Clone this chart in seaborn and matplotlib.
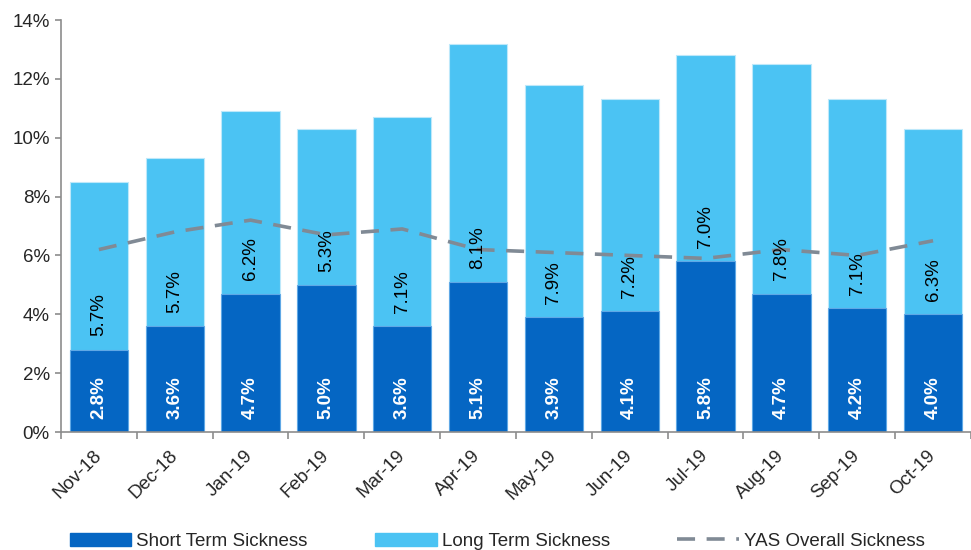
import numpy as np
import pandas as pd
import seaborn as sns
import matplotlib.pyplot as plt
from matplotlib.ticker import FuncFormatter, FixedLocator
from matplotlib.patches import Patch
from matplotlib.lines import Line2D

months = ["Nov-18", "Dec-18", "Jan-19", "Feb-19", "Mar-19", "Apr-19",
          "May-19", "Jun-19", "Jul-19", "Aug-19", "Sep-19", "Oct-19"]
short_term = [2.8, 3.6, 4.7, 5.0, 3.6, 5.1, 3.9, 4.1, 5.8, 4.7, 4.2, 4.0]
long_term = [5.7, 5.7, 6.2, 5.3, 7.1, 8.1, 7.9, 7.2, 7.0, 7.8, 7.1, 6.3]
overall = [6.2, 6.8, 7.2, 6.7, 6.9, 6.2, 6.1, 6.0, 5.9, 6.2, 6.0, 6.5]

DARK = "#0566C3"
LIGHT = "#4BC3F3"
GREY = "#808A95"
FS = 13.5

sns.set_theme(style="white")
plt.rcParams["font.family"] = ["Liberation Sans", "DejaVu Sans"]
plt.rcParams["font.size"] = FS

df = pd.DataFrame({"month": months, "short": short_term, "long": long_term})
df["total"] = df["short"] + df["long"]

fig = plt.figure(figsize=(9.71, 5.5), dpi=100)
ax = fig.add_axes([0.0628, 0.2145, 0.9372, 0.7491])

# stacked bars: total (light) underneath, short term (dark) on top
sns.barplot(data=df, x="month", y="total", color=LIGHT, saturation=1,
            width=0.77, edgecolor="#BDE8FA", linewidth=0.8, ax=ax)
sns.barplot(data=df, x="month", y="short", color=DARK, saturation=1,
            width=0.77, edgecolor="#5FA8E6", linewidth=0.8, ax=ax)

ax.plot(np.arange(len(months)), overall, color=GREY, lw=2.6,
        dashes=(5, 3.2), zorder=5)

for i, (s, l) in enumerate(zip(short_term, long_term)):
    ax.text(i, 0.45, f"{s:.1f}%", rotation=90, ha="center", va="bottom",
            color="white", fontweight="bold", fontsize=FS, zorder=6)
    ax.text(i, s + 0.45, f"{l:.1f}%", rotation=90, ha="center", va="bottom",
            color="black", fontsize=FS, zorder=6)

ax.set_xlim(-0.5, len(months) - 0.5)
ax.set_ylim(0, 14)
ax.set_yticks(range(0, 15, 2))
ax.yaxis.set_major_formatter(FuncFormatter(lambda v, p: f"{v:.0f}%"))
ax.set_xlabel("")
ax.set_ylabel("")

for side in ["top", "right"]:
    ax.spines[side].set_visible(False)
for side in ["left", "bottom"]:
    ax.spines[side].set_color("#8C8C8C")
    ax.spines[side].set_linewidth(1.2)

ax.tick_params(axis="y", left=True, length=4, width=1.2, color="#8C8C8C",
               labelsize=FS, pad=4)
ax.tick_params(axis="x", which="major", bottom=False, labelsize=FS, pad=9)
ax.xaxis.set_minor_locator(FixedLocator(np.arange(-0.5, len(months), 1)))
ax.tick_params(axis="x", which="minor", bottom=True, length=5, width=1.2,
               color="#8C8C8C")
plt.setp(ax.get_xticklabels(), rotation=45, ha="right", va="center",
         rotation_mode="anchor")

handles = [Patch(facecolor=DARK, edgecolor=DARK),
           Patch(facecolor=LIGHT, edgecolor=LIGHT),
           Line2D([0], [0], color=GREY, lw=2.6, dashes=(5, 3.2))]
labels = ["Short Term Sickness", "Long Term Sickness", "YAS Overall Sickness"]
fig.legend(handles, labels, loc="center", bbox_to_anchor=(0.512, 0.016),
           ncol=3, frameon=False, fontsize=FS, handlelength=3.3,
           handleheight=0.7, columnspacing=3.6, handletextpad=0.25)

fig.savefig("out.png", dpi=100)
